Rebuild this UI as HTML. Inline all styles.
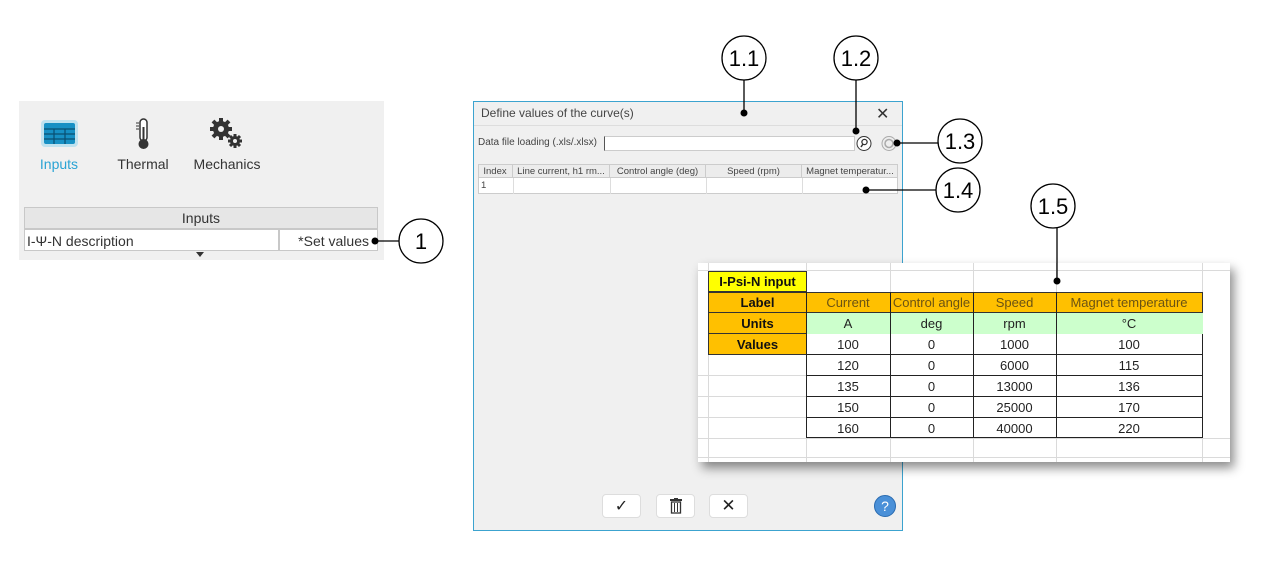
<!DOCTYPE html>
<html><head><meta charset="utf-8"><style>
*{margin:0;padding:0;box-sizing:border-box}
body{width:1279px;height:569px;background:#fff;position:relative;overflow:hidden;font-family:"Liberation Sans",sans-serif;color:#333}
.a{position:absolute}
.c{position:absolute;display:flex;align-items:center;justify-content:center;white-space:nowrap}
.gl{position:absolute;background:#dadada}
</style></head><body>

<!-- left panel -->
<div class="a" style="left:19px;top:101px;width:365px;height:159px;background:#f0f0f0"></div>
<svg class="a" style="left:40px;top:118px" width="40" height="32">
 <rect x="1" y="2" width="37" height="27" rx="4" fill="#9ed9ee" opacity=".6"/>
 <rect x="4" y="5" width="31" height="21" rx="2" fill="#1790c4"/>
 <g stroke="#0a4f72" stroke-width="1.2"><line x1="4" y1="11" x2="35" y2="11"/><line x1="4" y1="16" x2="35" y2="16"/><line x1="4" y1="21" x2="35" y2="21"/><line x1="14" y1="11" x2="14" y2="26"/><line x1="25" y1="11" x2="25" y2="26"/></g>
</svg>
<svg class="a" style="left:134px;top:117px" width="20" height="34">
 <rect x="6" y="2" width="7" height="22" rx="3.5" fill="#fff" stroke="#333" stroke-width="1.5"/>
 <circle cx="9.5" cy="27" r="5" fill="#333"/><rect x="8.5" y="10" width="2" height="16" fill="#333"/>
 <g stroke="#333"><line x1="2" y1="6" x2="5" y2="6"/><line x1="2" y1="9" x2="5" y2="9"/><line x1="2" y1="12" x2="5" y2="12"/></g>
</svg>
<svg class="a" style="left:208px;top:116px" width="36" height="34">
 <circle cx="13" cy="13" r="8" fill="#333"/><circle cx="13" cy="13" r="3" fill="#f0f0f0"/>
 <g stroke="#333" stroke-width="4"><line x1="13" y1="2" x2="13" y2="24"/><line x1="2" y1="13" x2="24" y2="13"/><line x1="5" y1="5" x2="21" y2="21"/><line x1="21" y1="5" x2="5" y2="21"/></g>
 <circle cx="13" cy="13" r="3" fill="#f0f0f0"/>
 <circle cx="27" cy="25" r="5" fill="#333"/>
 <g stroke="#333" stroke-width="3"><line x1="27" y1="18" x2="27" y2="32"/><line x1="20" y1="25" x2="34" y2="25"/><line x1="22" y1="20" x2="32" y2="30"/><line x1="32" y1="20" x2="22" y2="30"/></g>
 <circle cx="27" cy="25" r="2" fill="#f0f0f0"/>
</svg>
<div class="c" style="left:29px;top:155px;width:60px;height:18px;font-size:14px;color:#29a3d4">Inputs</div>
<div class="c" style="left:110px;top:155px;width:66px;height:18px;font-size:14px">Thermal</div>
<div class="c" style="left:188px;top:155px;width:78px;height:18px;font-size:14px">Mechanics</div>
<div class="c" style="left:24px;top:207px;width:354px;height:22px;font-size:14px;background:#e6e6e6;border:1px solid #c8c8c8">Inputs</div>
<div class="a" style="left:24px;top:229px;width:255px;height:22px;font-size:14px;background:#fff;border:1px solid #c8c8c8;padding:3px 0 0 2px">I-Ψ-N description</div>
<div class="a" style="left:279px;top:229px;width:99px;height:22px;font-size:14px;background:#fff;border:1px solid #c8c8c8;text-align:right;padding:3px 8px 0 0">*Set values</div>
<div class="a" style="left:196px;top:252px;width:0;height:0;border-left:4px solid transparent;border-right:4px solid transparent;border-top:5px solid #333"></div>

<!-- dialog -->
<div class="a" style="left:473px;top:101px;width:430px;height:430px;background:#f0f0f0;border:1.5px solid #3ca3cf"></div>
<div class="a" style="left:474px;top:102px;width:428px;height:24px;border-bottom:1px solid #ddd"></div>
<div class="a" style="left:481px;top:106px;font-size:12px;color:#444">Define values of the curve(s)</div>
<div class="a" style="left:876px;top:104px;font-size:16px;color:#333">✕</div>
<div class="a" style="left:478px;top:137px;font-size:10px;color:#444">Data file loading (.xls/.xlsx)</div>
<div class="a" style="left:604px;top:136px;width:251px;height:15px;background:#fff;border:1px solid #ccc;border-left:1px solid #555"></div>
<svg class="a" style="left:855px;top:135px" width="18" height="17"><circle cx="9" cy="8.5" r="7" fill="#fff" stroke="#333"/><circle cx="9.5" cy="7" r="2.6" fill="none" stroke="#333" stroke-width="1.3"/><line x1="8" y1="9" x2="6" y2="12" stroke="#333" stroke-width="1.5"/></svg>
<svg class="a" style="left:880px;top:135px" width="18" height="17"><circle cx="9" cy="8.5" r="7" fill="#eee" stroke="#aaa"/><circle cx="9" cy="8.5" r="4" fill="none" stroke="#aaa" stroke-width="1.5"/></svg>
<div class="a" style="left:478px;top:164px;width:420px;height:30px;background:#fff;border:1px solid #ccc"></div>
<div class="a" style="left:478px;top:164px;width:420px;height:14px;background:#ececec;border:1px solid #ccc"></div>
<div class="c" style="left:478px;top:164px;width:35px;height:14px;font-size:9.5px;color:#444;border-right:1px solid #ccc">Index</div>
<div class="c" style="left:513px;top:164px;width:97px;height:14px;font-size:9.5px;color:#444;border-right:1px solid #ccc">Line current, h1 rm...</div>
<div class="c" style="left:610px;top:164px;width:96px;height:14px;font-size:9.5px;color:#444;border-right:1px solid #ccc">Control angle (deg)</div>
<div class="c" style="left:706px;top:164px;width:96px;height:14px;font-size:9.5px;color:#444;border-right:1px solid #ccc">Speed (rpm)</div>
<div class="c" style="left:802px;top:164px;width:96px;height:14px;font-size:9.5px;color:#444">Magnet temperatur...</div>
<div class="a" style="left:513px;top:178px;width:1px;height:16px;background:#ddd"></div>
<div class="a" style="left:610px;top:178px;width:1px;height:16px;background:#ddd"></div>
<div class="a" style="left:706px;top:178px;width:1px;height:16px;background:#ddd"></div>
<div class="a" style="left:802px;top:178px;width:1px;height:16px;background:#ddd"></div>
<div class="a" style="left:481px;top:180px;font-size:9.5px;color:#444">1</div>
<!-- buttons -->
<div class="c" style="left:602px;top:494px;width:39px;height:24px;background:#fff;border:1px solid #ddd;border-radius:4px;font-size:16px;color:#222">✓</div>
<div class="c" style="left:656px;top:494px;width:39px;height:24px;background:#fff;border:1px solid #ddd;border-radius:4px">
<svg width="12" height="16"><rect x="0" y="1" width="12" height="2" fill="#333"/><rect x="4" y="0" width="4" height="2" fill="#333"/><rect x="1.5" y="4" width="9" height="11" fill="none" stroke="#333" stroke-width="1.3"/><line x1="4.5" y1="5" x2="4.5" y2="14" stroke="#333"/><line x1="7.5" y1="5" x2="7.5" y2="14" stroke="#333"/></svg></div>
<div class="c" style="left:709px;top:494px;width:39px;height:24px;background:#fff;border:1px solid #ddd;border-radius:4px;font-size:17px;color:#222">✕</div>
<div class="c" style="left:874px;top:495px;width:22px;height:22px;border-radius:50%;background:#4a90d8;border:1px solid #2a6bb0;color:#fff;font-size:14px">?</div>

<!-- excel -->
<div class="a" style="left:698px;top:263px;width:532px;height:199px;background:#fff;box-shadow:4px 6px 10px rgba(0,0,0,.45)"></div>
<div class="gl" style="left:708px;top:263px;width:1px;height:199px"></div>
<div class="gl" style="left:806px;top:263px;width:1px;height:199px"></div>
<div class="gl" style="left:890px;top:263px;width:1px;height:199px"></div>
<div class="gl" style="left:973px;top:263px;width:1px;height:199px"></div>
<div class="gl" style="left:1056px;top:263px;width:1px;height:199px"></div>
<div class="gl" style="left:1202px;top:263px;width:1px;height:199px"></div>
<div class="gl" style="left:698px;top:270px;width:532px;height:1px"></div>
<div class="gl" style="left:698px;top:375px;width:110px;height:1px"></div>
<div class="gl" style="left:698px;top:396px;width:110px;height:1px"></div>
<div class="gl" style="left:698px;top:417px;width:110px;height:1px"></div>
<div class="gl" style="left:698px;top:438px;width:532px;height:1px"></div>
<div class="gl" style="left:698px;top:457px;width:532px;height:1px"></div>
<div class="c" style="left:708px;top:271px;width:99px;height:21px;background:#ffff00;border:1.5px solid #333;font-size:13px;font-weight:bold;color:#111">I-Psi-N input</div>
<div class="a" style="left:708px;top:292px;width:99px;height:63px;background:#ffc000;border:1.5px solid #333"></div>
<div class="c" style="left:708px;top:292px;width:99px;height:21px;font-size:13px;font-weight:bold;color:#111;border-bottom:1px solid #333">Label</div>
<div class="c" style="left:708px;top:313px;width:99px;height:21px;font-size:13px;font-weight:bold;color:#111;border-bottom:1px solid #333">Units</div>
<div class="c" style="left:708px;top:334px;width:99px;height:21px;font-size:13px;font-weight:bold;color:#111">Values</div>
<div class="a" style="left:806px;top:292px;width:397px;height:21px;background:#ffc000;border:1px solid #333"></div>
<div class="a" style="left:806px;top:313px;width:397px;height:21px;background:#ccffcc"></div>
<div class="a" style="left:806px;top:334px;width:397px;height:104px;border:1px solid #222;border-top:none"></div>
<div class="a" style="left:806px;top:354px;width:397px;height:1px;background:#222"></div>
<div class="a" style="left:806px;top:375px;width:397px;height:1px;background:#222"></div>
<div class="a" style="left:806px;top:396px;width:397px;height:1px;background:#222"></div>
<div class="a" style="left:806px;top:417px;width:397px;height:1px;background:#222"></div>
<div class="a" style="left:890px;top:292px;width:1px;height:146px;background:#222"></div>
<div class="a" style="left:973px;top:292px;width:1px;height:146px;background:#222"></div>
<div class="a" style="left:1056px;top:292px;width:1px;height:146px;background:#222"></div>
<div class="a" style="left:806px;top:292px;width:1px;height:146px;background:#222"></div>
<div style="position:absolute;left:806px;top:292px;font-size:13px;color:#6b5313">
 <div class="c" style="left:0;top:0;width:84px;height:21px">Current</div>
 <div class="c" style="left:84px;top:0;width:83px;height:21px">Control angle</div>
 <div class="c" style="left:167px;top:0;width:83px;height:21px">Speed</div>
 <div class="c" style="left:250px;top:0;width:146px;height:21px">Magnet temperature</div>
</div>
<div style="position:absolute;left:806px;top:313px;font-size:13px;color:#222">
 <div class="c" style="left:0;top:0;width:84px;height:21px">A</div>
 <div class="c" style="left:84px;top:0;width:83px;height:21px">deg</div>
 <div class="c" style="left:167px;top:0;width:83px;height:21px">rpm</div>
 <div class="c" style="left:250px;top:0;width:146px;height:21px">°C</div>
 <div class="c" style="left:0;top:21px;width:84px;height:21px">100</div><div class="c" style="left:84px;top:21px;width:83px;height:21px">0</div><div class="c" style="left:167px;top:21px;width:83px;height:21px">1000</div><div class="c" style="left:250px;top:21px;width:146px;height:21px">100</div>
 <div class="c" style="left:0;top:42px;width:84px;height:21px">120</div><div class="c" style="left:84px;top:42px;width:83px;height:21px">0</div><div class="c" style="left:167px;top:42px;width:83px;height:21px">6000</div><div class="c" style="left:250px;top:42px;width:146px;height:21px">115</div>
 <div class="c" style="left:0;top:63px;width:84px;height:21px">135</div><div class="c" style="left:84px;top:63px;width:83px;height:21px">0</div><div class="c" style="left:167px;top:63px;width:83px;height:21px">13000</div><div class="c" style="left:250px;top:63px;width:146px;height:21px">136</div>
 <div class="c" style="left:0;top:84px;width:84px;height:21px">150</div><div class="c" style="left:84px;top:84px;width:83px;height:21px">0</div><div class="c" style="left:167px;top:84px;width:83px;height:21px">25000</div><div class="c" style="left:250px;top:84px;width:146px;height:21px">170</div>
 <div class="c" style="left:0;top:105px;width:84px;height:21px">160</div><div class="c" style="left:84px;top:105px;width:83px;height:21px">0</div><div class="c" style="left:167px;top:105px;width:83px;height:21px">40000</div><div class="c" style="left:250px;top:105px;width:146px;height:21px">220</div>
</div>

<!-- callouts -->
<svg class="a" style="left:0;top:0" width="1279" height="569">
 <g stroke="#000" stroke-width="1.3" fill="#fff">
  <line x1="375" y1="241" x2="399" y2="241"/><circle cx="421" cy="241" r="22"/>
  <line x1="744" y1="80" x2="744" y2="113"/><circle cx="744" cy="58" r="22"/>
  <line x1="856" y1="80" x2="856" y2="131"/><circle cx="856" cy="58" r="22"/>
  <line x1="898" y1="143" x2="938" y2="143"/><circle cx="960" cy="141" r="22"/>
  <line x1="866" y1="190" x2="936" y2="190"/><circle cx="958" cy="190" r="22"/>
  <line x1="1057" y1="228" x2="1057" y2="281"/><circle cx="1053" cy="206" r="22"/>
 </g>
 <g fill="#000"><circle cx="375" cy="241" r="3.5"/><circle cx="744" cy="113" r="3.5"/><circle cx="856" cy="131" r="3.5"/><circle cx="897" cy="143" r="3.5"/><circle cx="866" cy="190" r="3.5"/><circle cx="1057" cy="281" r="3.5"/></g>
 <g font-family="Liberation Sans, sans-serif" font-size="22" text-anchor="middle" fill="#000">
  <text x="421" y="249">1</text><text x="744" y="66">1.1</text><text x="856" y="66">1.2</text>
  <text x="960" y="149">1.3</text><text x="958" y="198">1.4</text><text x="1053" y="214">1.5</text>
 </g>
</svg>
</body></html>
